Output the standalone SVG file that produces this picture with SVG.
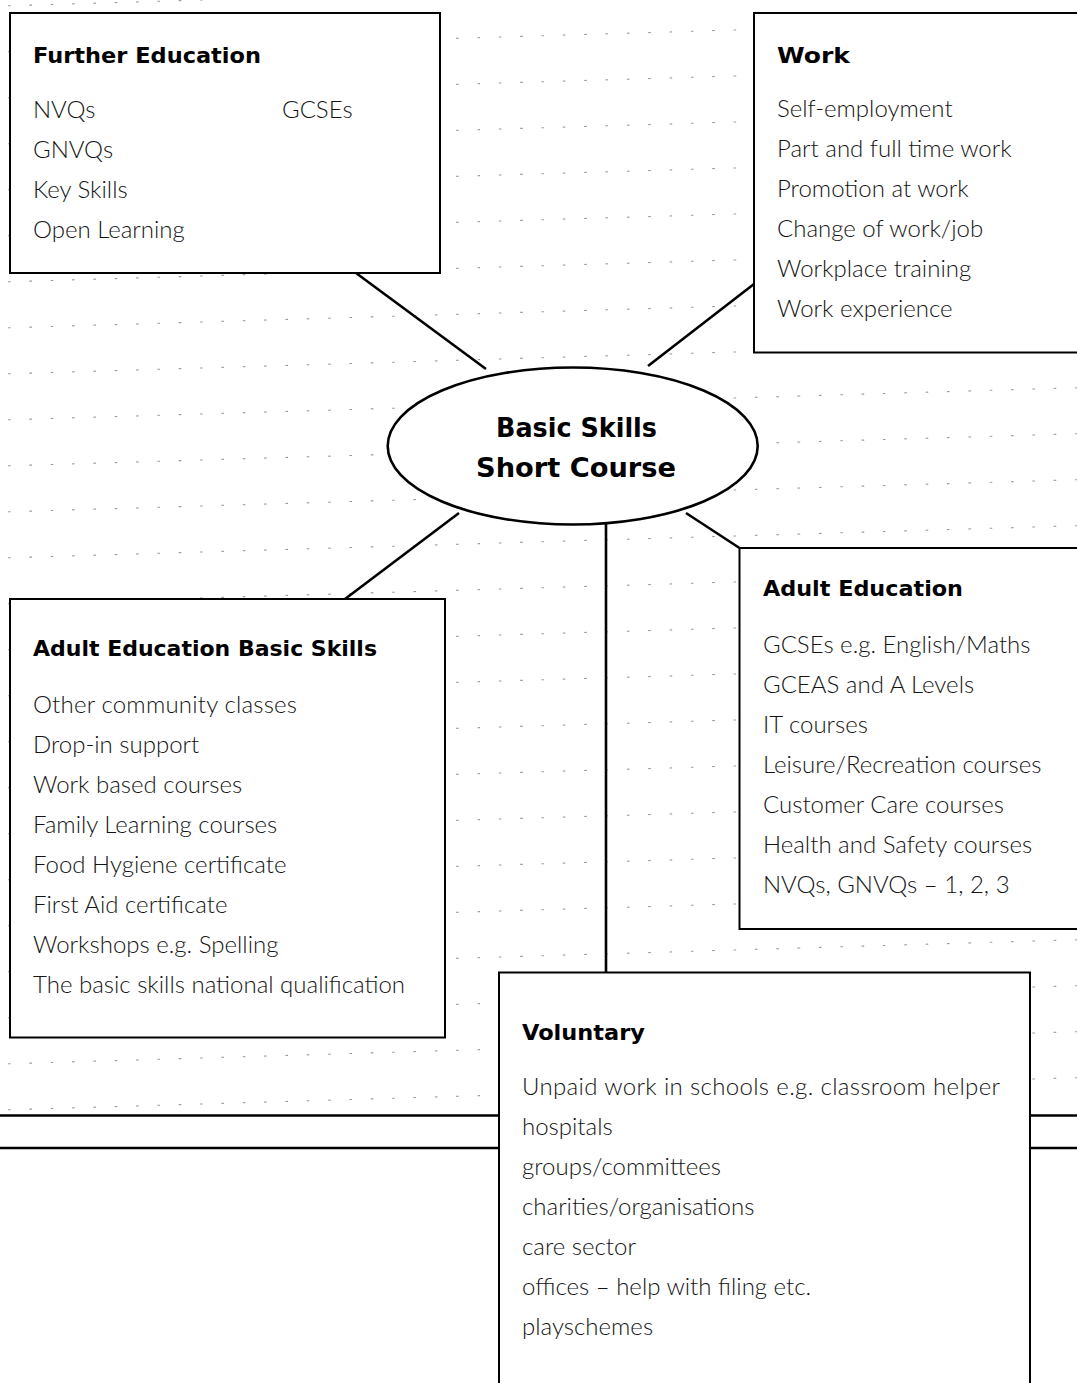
<svg xmlns="http://www.w3.org/2000/svg" width="1077" height="1383" viewBox="0 0 1077 1383">
  <style>
    .ruled { fill: none; stroke: #9a9a9a; stroke-width: 1.1; stroke-dasharray: 2.6 18.75; }
    .rule { fill: none; stroke: #000; stroke-width: 2.6; }
    .link { fill: none; stroke: #000; stroke-width: 2.6; }
    .box { fill: #fff; stroke: #000; stroke-width: 2; }
    .hub { fill: #fff; stroke: #000; stroke-width: 2.6; }
    .head { font-family: "DejaVu Sans", Lato, sans-serif; font-weight: 700; font-size: 22px; fill: #000; }
    .item { font-family: Lato, "Liberation Sans", sans-serif; font-weight: 300; font-size: 24px; fill: #141414; }
    .title { font-family: "DejaVu Sans", Lato, sans-serif; font-weight: 700; font-size: 26px; fill: #000; }
  </style>

  <rect width="1077" height="1383" fill="#fff"/>

  <!-- faint ruled writing lines across the sheet -->
  <path class="ruled" d="
    M8 5.8 L1077 -26.3 M8 51.8 L1077 19.7 M8 97.8 L1077 65.7 M8 143.8 L1077 111.7
    M8 189.8 L1077 157.7 M8 235.8 L1077 203.7 M8 281.8 L1077 249.7 M8 327.8 L1077 295.7
    M8 373.8 L1077 341.7 M8 419.8 L1077 387.7 M8 465.8 L1077 433.7 M8 511.8 L1077 479.7
    M8 557.8 L1077 525.7 M8 603.8 L1077 571.7 M8 649.8 L1077 617.7 M8 695.8 L1077 663.7
    M8 741.8 L1077 709.7 M8 787.8 L1077 755.7 M8 833.8 L1077 801.7 M8 879.8 L1077 847.7
    M8 925.8 L1077 893.7 M8 971.8 L1077 939.7 M8 1017.8 L1077 985.7 M8 1063.8 L1077 1031.7
    M8 1109.8 L1077 1077.7"/>

  <!-- double rule near the foot of the sheet -->
  <path class="rule" d="M0 1115.5 H499 M0 1148 H499 M1030 1115.5 H1077 M1030 1148 H1077"/>

  <!-- connectors from the hub to each destination -->
  <g id="connectors">
    <line class="link" x1="356" y1="273" x2="486" y2="369"/>
    <line class="link" x1="754" y1="284" x2="648" y2="366"/>
    <line class="link" x1="345" y1="599" x2="459" y2="513"/>
    <line class="link" x1="739.5" y1="548" x2="686" y2="513"/>
    <line class="link" x1="606" y1="515" x2="606" y2="972.5"/>
  </g>

  <g id="hub">
    <ellipse class="hub" cx="572.7" cy="446" rx="185" ry="78.5"/>
    <text class="title" x="496" y="437" textLength="161" lengthAdjust="spacingAndGlyphs">Basic Skills</text>
    <text class="title" x="476" y="477" textLength="200" lengthAdjust="spacingAndGlyphs">Short Course</text>
  </g>

  <g id="further-education">
    <rect class="box" x="10" y="13" width="430" height="260"/>
    <text class="head" x="33" y="63" textLength="228" lengthAdjust="spacingAndGlyphs">Further Education</text>
    <text class="item" x="33" y="118">NVQs</text>
    <text class="item" x="282" y="118">GCSEs</text>
    <text class="item" x="33" y="158">GNVQs</text>
    <text class="item" x="33" y="198">Key Skills</text>
    <text class="item" x="33" y="238">Open Learning</text>
  </g>

  <g id="work">
    <rect class="box" x="754" y="13" width="340" height="339.5"/>
    <text class="head" x="777" y="63" textLength="73" lengthAdjust="spacingAndGlyphs">Work</text>
    <text class="item" x="777" y="117">Self-employment</text>
    <text class="item" x="777" y="157">Part and full time work</text>
    <text class="item" x="777" y="197">Promotion at work</text>
    <text class="item" x="777" y="237">Change of work/job</text>
    <text class="item" x="777" y="277">Workplace training</text>
    <text class="item" x="777" y="317">Work experience</text>
  </g>

  <g id="adult-education-basic-skills">
    <rect class="box" x="10" y="599" width="435" height="438.5"/>
    <text class="head" x="33" y="656" textLength="344" lengthAdjust="spacingAndGlyphs">Adult Education Basic Skills</text>
    <text class="item" x="33" y="713" textLength="264">Other community classes</text>
    <text class="item" x="33" y="753">Drop-in support</text>
    <text class="item" x="33" y="793">Work based courses</text>
    <text class="item" x="33" y="833">Family Learning courses</text>
    <text class="item" x="33" y="873">Food Hygiene certificate</text>
    <text class="item" x="33" y="913">First Aid certificate</text>
    <text class="item" x="33" y="953">Workshops e.g. Spelling</text>
    <text class="item" x="33" y="993">The basic skills national qualification</text>
  </g>

  <g id="adult-education">
    <rect class="box" x="739.5" y="548" width="350" height="381"/>
    <text class="head" x="763" y="596" textLength="200" lengthAdjust="spacingAndGlyphs">Adult Education</text>
    <text class="item" x="763" y="653">GCSEs e.g. English/Maths</text>
    <text class="item" x="763" y="693">GCEAS and A Levels</text>
    <text class="item" x="763" y="733">IT courses</text>
    <text class="item" x="763" y="773">Leisure/Recreation courses</text>
    <text class="item" x="763" y="813">Customer Care courses</text>
    <text class="item" x="763" y="853">Health and Safety courses</text>
    <text class="item" x="763" y="893">NVQs, GNVQs – 1, 2, 3</text>
  </g>

  <g id="voluntary">
    <rect class="box" x="499" y="972.5" width="531" height="430"/>
    <text class="head" x="522" y="1040" textLength="123" lengthAdjust="spacingAndGlyphs">Voluntary</text>
    <text class="item" x="522" y="1095" textLength="478">Unpaid work in schools e.g. classroom helper</text>
    <text class="item" x="522" y="1135">hospitals</text>
    <text class="item" x="522" y="1175">groups/committees</text>
    <text class="item" x="522" y="1215">charities/organisations</text>
    <text class="item" x="522" y="1255">care sector</text>
    <text class="item" x="522" y="1295">offices – help with filing etc.</text>
    <text class="item" x="522" y="1335">playschemes</text>
  </g>
</svg>
